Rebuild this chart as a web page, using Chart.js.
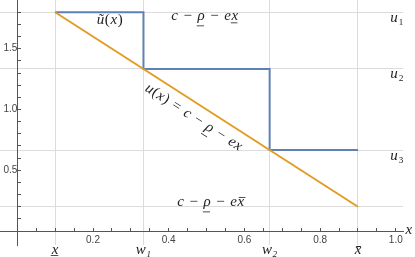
<!DOCTYPE html>
<html>
<head>
<meta charset="utf-8">
<script src="https://cdn.jsdelivr.net/npm/chart.js@4.4.1/dist/chart.umd.min.js"></script>
<style>
  html, body { margin: 0; padding: 0; background: #fff; }
  #chart { display: block; }
</style>
</head>
<body>
<canvas id="chart" width="415" height="257"></canvas>
<script>
// breakpoints x̲, w1, w2, x̄ and the step levels u1, u2, u3
const breakX = [0.1, 1 / 3, 2 / 3, 0.9];
const breakLabels = ['x̲', 'w₁', 'w₂', 'x̄'];
const stepLevels = [1.8, 4 / 3, 2 / 3];
const levelLabels = ['u₁', 'u₂', 'u₃'];

// u(x) = c - ρ - e x  (end points)
const lineX = [0.1, 0.9];
const lineY = [1.8, 0.2];

// horizontal grid lines
const gridY = [1.8, 4 / 3, 2 / 3, 0.2];

// tick marks and labels
const xTicks = [0.05, 0.1, 0.15, 0.2, 0.25, 0.3, 0.35, 0.4, 0.45, 0.5, 0.55, 0.6, 0.65, 0.7, 0.75, 0.8, 0.85, 0.9, 0.95, 1.0];
const xMajor = [0.2, 0.4, 0.6, 0.8, 1.0];
const xMajorLabels = ['0.2', '0.4', '0.6', '0.8', '1.0'];
const yTicks = [0.1, 0.2, 0.3, 0.4, 0.5, 0.6, 0.7, 0.8, 0.9, 1.0, 1.1, 1.2, 1.3, 1.4, 1.5, 1.6, 1.7, 1.8];
const yMajor = [0.5, 1.0, 1.5];
const yMajorLabels = ['0.5', '1.0', '1.5'];

const blue = '#5e81b5';
const orange = '#e19c24';
const axisColor = '#555555';
const gridColor = '#dcdcdc';
const mathFont = '"Liberation Serif", "DejaVu Serif", serif';

const xMin = -0.0457, xMax = 1.019;
const yMin = -0.115, yMax = 1.901;

const lineData = lineX.map((x, i) => ({ x: x, y: lineY[i] }));
const stepData = breakX.map((x, i) => ({ x: x, y: stepLevels[Math.min(i, stepLevels.length - 1)] }));

function majorLabel(v, vals, labels) {
    const i = vals.findIndex(m => Math.abs(m - v) < 1e-6);
    return i === -1 ? '' : labels[i];
}

function noPad(scale) {
    scale.paddingTop = 0;
    scale.paddingBottom = 0;
    scale.paddingLeft = 0;
    scale.paddingRight = 0;
}

// split a formula into glyphs; letters italic, under/over bars drawn by hand
function parseMath(str) {
    const out = [];
    for (const ch of str) {
        if (ch === '\u0332') { out[out.length - 1].under = true; continue; }
        if (ch === '\u0304') { out[out.length - 1].over = true; continue; }
        if (ch === ' ') { out.push({ space: true }); continue; }
        out.push({ ch: ch, italic: /[a-zρũ]/.test(ch) });
    }
    return out;
}

function mathText(ctx, text, x, y, size, angle) {
    const glyphs = parseMath(text);
    const gap = size * 0.04;
    let total = 0;
    glyphs.forEach(g => {
        if (g.space) { g.w = size * 0.33; }
        else {
            ctx.font = (g.italic ? 'italic ' : '') + size + 'px ' + mathFont;
            g.w = ctx.measureText(g.ch).width + gap;
        }
        total += g.w;
    });
    ctx.save();
    ctx.translate(x, y);
    if (angle) ctx.rotate(angle);
    ctx.fillStyle = '#222';
    ctx.strokeStyle = '#222';
    ctx.lineWidth = 0.8;
    ctx.textAlign = 'left';
    ctx.textBaseline = 'alphabetic';
    const base = size * 0.3;
    let cx = -total / 2;
    glyphs.forEach(g => {
        if (!g.space) {
            ctx.font = (g.italic ? 'italic ' : '') + size + 'px ' + mathFont;
            ctx.fillText(g.ch, cx, base);
            const w = g.w - gap;
            if (g.under) {
                const uy = base + size * (g.ch === 'ρ' ? 0.36 : 0.16);
                ctx.beginPath();
                ctx.moveTo(cx - size * 0.05, uy);
                ctx.lineTo(cx + w - size * 0.05, uy);
                ctx.stroke();
            }
            if (g.over) {
                const oy = base - size * 0.6;
                ctx.beginPath();
                ctx.moveTo(cx + size * 0.08, oy);
                ctx.lineTo(cx + w + size * 0.08, oy);
                ctx.stroke();
            }
        }
        cx += g.w;
    });
    ctx.restore();
}

// text annotations, placed in data coordinates
const notes = [
    { text: 'ũ(x)', x: 0.245, y: 1.737 },
    { text: 'c − ρ̲ − ex̲', x: 0.496, y: 1.77 },
    { text: 'c − ρ̲ − ex̄', x: 0.512, y: 0.239 }
];

const notesPlugin = {
    id: 'notes',
    afterDraw(chart) {
        const ctx = chart.ctx;
        const sx = chart.scales.x, sy = chart.scales.y;
        notes.forEach(n => mathText(ctx, n.text, sx.getPixelForValue(n.x), sy.getPixelForValue(n.y), 15));

        // level labels at the right edge, just under each grid line
        stepLevels.forEach((v, i) => {
            mathText(ctx, levelLabels[i], sx.getPixelForValue(1.004), sy.getPixelForValue(v) + 5, 15);
        });

        // label along u(x)
        const x0 = sx.getPixelForValue(lineX[0]), y0 = sy.getPixelForValue(lineY[0]);
        const x1 = sx.getPixelForValue(lineX[1]), y1 = sy.getPixelForValue(lineY[1]);
        const ang = Math.atan2(y1 - y0, x1 - x0);
        const t = (0.486 - lineX[0]) / (lineX[1] - lineX[0]);
        const px = x0 + t * (x1 - x0), py = y0 + t * (y1 - y0);
        const d = 13;
        mathText(ctx, 'u(x) = c − ρ̲ − ex', px - d * Math.sin(ang), py + d * Math.cos(ang), 15, ang);

        // axis name
        mathText(ctx, 'x', sx.getPixelForValue(1.035), sy.getPixelForValue(0) - 1.5, 15);
    }
};

new Chart(document.getElementById('chart'), {
    type: 'scatter',
    data: {
        datasets: [
            { label: 'u(x)', data: lineData, showLine: true, borderColor: orange, borderWidth: 2, pointRadius: 0, fill: false },
            { label: 'ũ(x)', data: stepData, showLine: true, stepped: 'before', borderColor: blue, borderWidth: 2, pointRadius: 0, fill: false }
        ]
    },
    options: {
        responsive: false,
        animation: false,
        devicePixelRatio: 1,
        layout: { padding: { left: 0, top: 0, right: 12, bottom: 12 } },
        plugins: { legend: { display: false }, tooltip: { enabled: false } },
        scales: {
            xg: {
                type: 'linear', axis: 'x', min: xMin, max: xMax,
                position: { y: 0 },
                border: { display: false },
                grid: { color: gridColor, lineWidth: 1, drawTicks: false },
                afterBuildTicks: s => { s.ticks = breakX.map(v => ({ value: v })); },
                afterFit: noPad,
                ticks: {
                    autoSkip: false, maxRotation: 0, padding: 10,
                    color: '#222',
                    font: { family: mathFont, size: 15, style: 'italic' },
                    callback: (v, i) => breakLabels[i]
                }
            },
            yg: {
                type: 'linear', axis: 'y', min: yMin, max: yMax,
                position: { x: 0 },
                border: { display: false },
                grid: { color: gridColor, lineWidth: 1, drawTicks: false },
                afterBuildTicks: s => { s.ticks = gridY.map(v => ({ value: v })); },
                afterFit: noPad,
                ticks: { display: false }
            },
            x: {
                type: 'linear', min: xMin, max: xMax,
                position: { y: 0 },
                border: { color: axisColor, width: 1 },
                grid: { drawOnChartArea: false, drawTicks: true, tickLength: -4, color: axisColor },
                afterBuildTicks: s => { s.ticks = xTicks.map(v => ({ value: v })); },
                afterFit: noPad,
                ticks: {
                    autoSkip: false, maxRotation: 0, padding: 7,
                    color: '#444',
                    font: { family: '"Liberation Sans", Arial, sans-serif', size: 10 },
                    callback: v => majorLabel(v, xMajor, xMajorLabels)
                }
            },
            y: {
                type: 'linear', min: yMin, max: yMax,
                position: { x: 0 },
                border: { color: axisColor, width: 1 },
                grid: { drawOnChartArea: false, drawTicks: true, tickLength: -4, color: axisColor },
                afterBuildTicks: s => { s.ticks = yTicks.map(v => ({ value: v })); },
                afterFit: noPad,
                ticks: {
                    autoSkip: false, padding: 8,
                    color: '#444',
                    font: { family: '"Liberation Sans", Arial, sans-serif', size: 10 },
                    callback: v => majorLabel(v, yMajor, yMajorLabels)
                }
            }
        }
    },
    plugins: [notesPlugin]
});
</script>
</body>
</html>
